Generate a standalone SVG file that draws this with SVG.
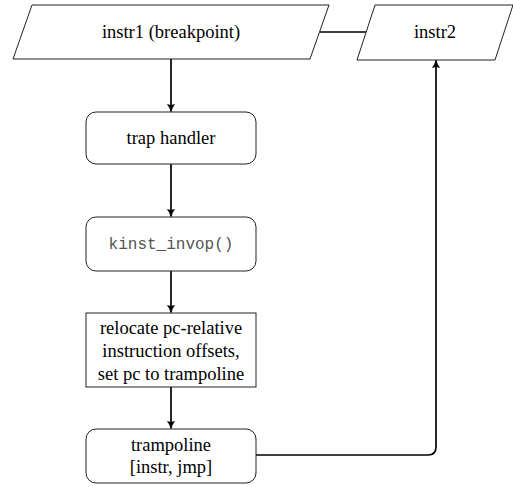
<svg xmlns="http://www.w3.org/2000/svg" width="513" height="487" viewBox="0 0 513 487">
<defs>
<style>
.shape{fill:#fff;stroke:#222;stroke-width:1}
.t{font-family:"Liberation Serif","Times New Roman",serif;font-size:18.5px;fill:#000;text-anchor:middle}
.m{font-family:"Liberation Mono","Courier New",monospace;font-size:16px;fill:#555;text-anchor:middle}
.c{fill:none;stroke:#000;stroke-width:1.7}
</style>
<marker id="ah" viewBox="0 0 10 10" refX="9.5" refY="5" markerWidth="8" markerHeight="8" markerUnits="userSpaceOnUse" orient="auto">
<path d="M0.5,0.5 Q5,3.5 9.5,5 Q5,6.5 0.5,9.5 Q3,5 0.5,0.5 Z" fill="#000" stroke="#000" stroke-width="0.6" stroke-linejoin="round"/>
</marker>
</defs>
<rect width="513" height="487" fill="#fff"/>
<g id="connectors">
<path class="c" d="M320,32 H367"/>
<path class="c" d="M171,59 V111.5" marker-end="url(#ah)"/>
<path class="c" d="M171,164 V216.5" marker-end="url(#ah)"/>
<path class="c" d="M171,271 V312.5" marker-end="url(#ah)"/>
<path class="c" d="M171,387 V428.5" marker-end="url(#ah)"/>
<path class="c" d="M256,455 H428 Q436,455 436,447 V60.5" marker-end="url(#ah)"/>
</g>
<g id="instr1">
<polygon class="shape" points="32,5 329,5 310,59 13,59"/>
<text class="t" x="171" y="38">instr1 (breakpoint)</text>
</g>
<g id="instr2">
<polygon class="shape" points="375,5 513,5 495,60 357,60"/>
<text class="t" x="435" y="38">instr2</text>
</g>
<g id="trap">
<rect class="shape" x="86" y="112" width="170" height="52" rx="10"/>
<text class="t" x="171" y="144">trap handler</text>
</g>
<g id="kinst">
<rect class="shape" x="86" y="217" width="170" height="54" rx="10"/>
<text class="m" x="171" y="249">kinst_invop()</text>
</g>
<g id="relocate">
<rect class="shape" x="86" y="313" width="170" height="74"/>
<text class="t" x="171" y="334">relocate pc-relative</text>
<text class="t" x="171" y="357">instruction offsets,</text>
<text class="t" x="171" y="380">set pc to trampoline</text>
</g>
<g id="trampoline">
<rect class="shape" x="86" y="429" width="170" height="54" rx="10"/>
<text class="t" x="171" y="451">trampoline</text>
<text class="t" x="171" y="473">[instr, jmp]</text>
</g>
</svg>
